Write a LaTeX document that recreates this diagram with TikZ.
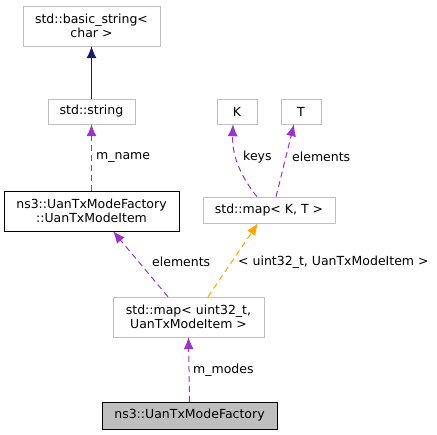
\documentclass[tikz,border=0pt]{standalone}
\usepackage{fontspec}
\setmainfont{DejaVu Sans}
\usetikzlibrary{arrows.meta,calc}
\definecolor{usecolor}{HTML}{9A32CD}
\definecolor{inhcolor}{HTML}{191970}
\definecolor{tplcolor}{HTML}{FFA500}
\definecolor{boxgray}{HTML}{BFBFBF}

\begin{document}
\begin{tikzpicture}[x=1pt,y=-1pt]
\tikzstyle{box}=[draw=boxgray, fill=white, rectangle, align=center, inner sep=0pt, font=\fontsize{12.5}{14}\selectfont]
\tikzstyle{lbl}=[anchor=west, inner sep=0pt, font=\fontsize{12.5}{14}\selectfont]
\tikzstyle{use}=[-{Latex[length=12pt,width=10pt]}, usecolor, line width=1pt, dash pattern=on 6pt off 4pt]
\useasboundingbox (0,0) rectangle (437,435);

% string chain on the left
\node[box, minimum width=137, minimum height=40] (basicstring) at (91.5,26) {std::basic\_string<\\char >};
\node[box, minimum width=87, minimum height=25] (string) at (91.5,111.5) {std::string};
\node[box, draw=black, minimum width=175, minimum height=40] (modeitem) at (91.5,211) {ns3::UanTxModeFactory\\::UanTxModeItem};

% template map on the right
\node[box, minimum width=40, minimum height=25] (K) at (237,111.5) {K};
\node[box, minimum width=40, minimum height=25] (T) at (301,111.5) {T};
\node[box, minimum width=132, minimum height=26] (mapKT) at (269,210) {std::map< K, T >};

% instance and factory
\node[box, minimum width=151, minimum height=40] (mapmodes) at (188.5,317) {std::map< uint32\_t,\\UanTxModeItem >};
\node[box, draw=black, fill=boxgray, minimum width=175, minimum height=27] (factory) at (189.5,415.5) {ns3::UanTxModeFactory};

% edges
\draw[-{Latex[length=12pt,width=10pt]}, inhcolor, line width=1pt] (string) -- (basicstring);
\draw[use] (modeitem.north) -- (string.south);
\draw[use] ($(mapKT.north)+(-12,0)$) to[bend left=20] ($(K.south)+(-4,0)$);
\draw[use] ($(mapKT.north)+(7,0)$) -- ($(T.south)+(-7,0)$);
\draw[use] ($(mapmodes.north)+(-20.5,0)$) -- ($(modeitem.south)+(21.5,0)$);
\draw[use, tplcolor] ($(mapmodes.north)+(19.5,0)$) -- ($(mapKT.south)+(-11,0)$);
\draw[use] (factory.north) -- (mapmodes.south);

% labels on edges
\node[lbl] (lname) at (96,157) {m\_name};
\node[lbl] (lkeys) at (243,157) {keys};
\node[lbl] (lelemT) at (292,157) {elements};
\node[lbl] (lelem) at (152,262) {elements};
\node[lbl] (ltpl) at (238,262) {< uint32\_t, UanTxModeItem >};
\node[lbl] (lmodes) at (193,370) {m\_modes};
\end{tikzpicture}
\end{document}
